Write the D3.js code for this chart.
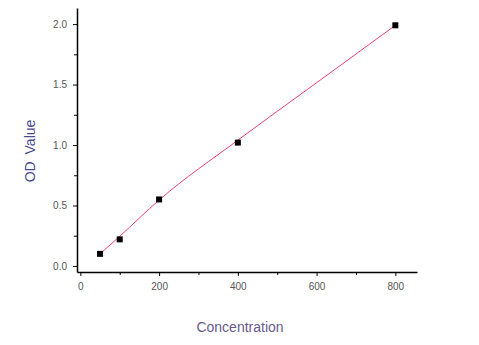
<!DOCTYPE html>
<html>
<head>
<meta charset="utf-8">
<script src="https://cdn.jsdelivr.net/npm/d3@7"></script>
<style>
  body { margin: 0; background: #fff; }
  svg { display: block; font-family: "Liberation Sans", Arial, sans-serif; }
</style>
</head>
<body>
<div id="chart-area"></div>
<script>
// measured points
var concentration = [50, 100, 200, 400, 800];
var odValue = [0.10, 0.22, 0.55, 1.02, 1.99];
// fitted curve
var fitX = [50, 100, 200, 400, 600, 800];
var fitY = [0.10, 0.245, 0.545, 1.04, 1.515, 1.99];
var xTicks = [0, 200, 400, 600, 800];
var xMinor = [100, 300, 500, 700];
var yTicks = [0, 0.5, 1.0, 1.5, 2.0];
var yMinor = [0.25, 0.75, 1.25, 1.75];

var svg = d3.select("#chart-area").append("svg")
  .attr("width", 479).attr("height", 345);

var plotLeft = 77, plotRight = 417, plotTop = 8, plotBottom = 272;

var x = d3.scaleLinear().domain([-8.5, 855]).range([plotLeft, plotRight]);
var y = d3.scaleLinear().domain([-0.05, 2.133]).range([plotBottom, plotTop]);

// minor ticks
svg.append("g").attr("transform", "translate(0," + plotBottom + ")")
  .call(d3.axisBottom(x).tickValues(xMinor).tickSize(3).tickFormat(""))
  .call(g => g.select(".domain").remove());
svg.append("g").attr("transform", "translate(" + plotLeft + ",0)")
  .call(d3.axisLeft(y).tickValues(yMinor).tickSize(3).tickFormat(""))
  .call(g => g.select(".domain").remove());

var xAxis = svg.append("g").attr("transform", "translate(0," + plotBottom + ")")
  .call(d3.axisBottom(x).tickValues(xTicks).tickSize(4).tickSizeOuter(0).tickPadding(7)
    .tickFormat(d3.format("d")));
var yAxis = svg.append("g").attr("transform", "translate(" + plotLeft + ",0)")
  .call(d3.axisLeft(y).tickValues(yTicks).tickSize(4).tickSizeOuter(0).tickPadding(6)
    .tickFormat(d3.format(".1f")));

[xAxis, yAxis].forEach(function (a) {
  a.select(".domain").attr("stroke", "#000").attr("stroke-width", 1.5);
  a.selectAll("text").attr("fill", "#555").attr("font-size", "10px")
    .attr("font-family", "'Liberation Sans', Arial, sans-serif");
});
svg.selectAll(".tick line").attr("stroke", "#000");

// fit curve
var line = d3.line()
  .x(function (d) { return x(d[0]); })
  .y(function (d) { return y(d[1]); })
  .curve(d3.curveMonotoneX);
svg.append("path")
  .datum(d3.zip(fitX, fitY))
  .attr("d", line)
  .attr("fill", "none")
  .attr("stroke", "#f0407a")
  .attr("stroke-width", 1);

// markers
svg.selectAll("rect.pt")
  .data(d3.zip(concentration, odValue))
  .enter().append("rect")
  .attr("class", "pt")
  .attr("x", function (d) { return x(d[0]) - 3; })
  .attr("y", function (d) { return y(d[1]) - 3; })
  .attr("width", 6).attr("height", 6)
  .attr("fill", "#000");

// axis titles
svg.append("text")
  .attr("x", 240).attr("y", 332)
  .attr("text-anchor", "middle")
  .attr("font-size", "14px")
  .attr("fill", "#6a5a8c")
  .text("Concentration");

svg.append("text")
  .attr("transform", "translate(35,151) rotate(-90)")
  .attr("text-anchor", "middle")
  .attr("font-size", "14px")
  .attr("fill", "#4a4a90")
  .attr("word-spacing", "3px")
  .text("OD Value");
</script>
</body>
</html>
